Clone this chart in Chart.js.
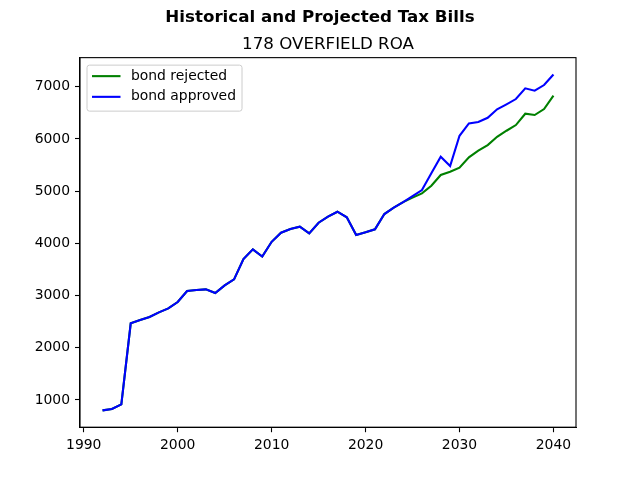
<!DOCTYPE html>
<html>
<head>
<meta charset="utf-8">
<script src="https://cdn.jsdelivr.net/npm/chart.js@4/dist/chart.umd.min.js"></script>
<style>
  html, body { margin: 0; padding: 0; background: #fff; }
  #wrap { width: 640px; height: 480px; }
</style>
</head>
<body>
<div id="wrap"><canvas id="myChart" width="640" height="480"></canvas></div>
<script>
const years = [
  1992, 1993, 1994, 1995, 1996, 1997, 1998, 1999, 2000, 2001,
  2002, 2003, 2004, 2005, 2006, 2007, 2008, 2009, 2010, 2011,
  2012, 2013, 2014, 2015, 2016, 2017, 2018, 2019, 2020, 2021,
  2022, 2023, 2024, 2025, 2026, 2027, 2028, 2029, 2030, 2031,
  2032, 2033, 2034, 2035, 2036, 2037, 2038, 2039, 2040
];
const bondRejected = [
  801, 828, 917, 2469, 2532, 2590, 2679, 2755, 2877, 3087,
  3106, 3119, 3049, 3196, 3311, 3700, 3886, 3748, 4030, 4205,
  4275, 4319, 4192, 4396, 4511, 4606, 4498, 4160, 4211, 4269,
  4562, 4683, 4790, 4875, 4958, 5104, 5309, 5372, 5449, 5648,
  5775, 5883, 6042, 6157, 6266, 6483, 6458, 6573, 6828
];
const bondApproved = [
  801, 828, 917, 2469, 2532, 2590, 2679, 2755, 2877, 3087,
  3106, 3119, 3049, 3196, 3311, 3700, 3886, 3748, 4030, 4205,
  4275, 4319, 4192, 4396, 4511, 4606, 4498, 4160, 4211, 4269,
  4562, 4683, 4790, 4906, 5021, 5341, 5659, 5481, 6061, 6298,
  6324, 6406, 6567, 6663, 6764, 6969, 6923, 7032, 7235
];
const xTicks = [1990, 2000, 2010, 2020, 2030, 2040];
const yTicks = [1000, 2000, 3000, 4000, 5000, 6000, 7000];

const FONT = "'DejaVu Sans', sans-serif";
const SUBTITLE = '178 OVERFIELD ROA';

// top and right spines, like a matplotlib frame
const frame = {
  id: 'frame',
  afterDraw(chart) {
    const {ctx, chartArea: a} = chart;
    ctx.save();
    ctx.strokeStyle = '#000';
    ctx.lineWidth = 1.1;
    ctx.strokeRect(a.left, a.top, a.right - a.left, a.bottom - a.top);
    ctx.restore();
  }
};

// axes title, centred over the plot area rather than the whole figure
const axesTitle = {
  id: 'axesTitle',
  afterDraw(chart) {
    const {ctx, chartArea: a} = chart;
    ctx.save();
    ctx.font = '16.7px ' + FONT;
    ctx.fillStyle = '#000';
    ctx.textAlign = 'center';
    ctx.textBaseline = 'alphabetic';
    ctx.fillText(SUBTITLE, (a.left + a.right) / 2, a.top - 8.3);
    ctx.restore();
  }
};

// legend box in the upper left corner of the plot
const innerLegend = {
  id: 'innerLegend',
  afterDatasetsDraw(chart) {
    const {ctx, chartArea: a} = chart;
    const x = a.left + 7, y = a.top + 7.5, w = 155, h = 46;
    ctx.save();
    ctx.beginPath();
    ctx.roundRect(x, y, w, h, 2.5);
    ctx.fillStyle = 'rgba(255,255,255,0.8)';
    ctx.fill();
    ctx.strokeStyle = '#cccccc';
    ctx.lineWidth = 1;
    ctx.stroke();
    ctx.font = '13.9px ' + FONT;
    ctx.textBaseline = 'middle';
    chart.data.datasets.forEach((ds, i) => {
      const ry = y + 11 + i * 20.7;
      ctx.beginPath();
      ctx.moveTo(x + 5, ry);
      ctx.lineTo(x + 33.5, ry);
      ctx.strokeStyle = ds.borderColor;
      ctx.lineWidth = 2.1;
      ctx.stroke();
      ctx.fillStyle = '#000';
      ctx.fillText(ds.label, x + 44, ry);
    });
    ctx.restore();
  }
};

const data = {
  datasets: [{
    label: 'bond rejected',
    data: years.map((yr, i) => ({x: yr, y: bondRejected[i]})),
    borderColor: '#008000',
    borderWidth: 2.1,
    pointRadius: 0,
    tension: 0,
    order: 1
  }, {
    label: 'bond approved',
    data: years.map((yr, i) => ({x: yr, y: bondApproved[i]})),
    borderColor: '#0000ff',
    borderWidth: 2.1,
    pointRadius: 0,
    tension: 0,
    order: 0
  }]
};

const config = {
  type: 'line',
  data: data,
  plugins: [frame, axesTitle, innerLegend],
  options: {
    responsive: false,
    animation: false,
    devicePixelRatio: 1,
    layout: { padding: 0 },
    plugins: {
      legend: { display: false },
      tooltip: { enabled: false },
      title: {
        display: true,
        text: 'Historical and Projected Tax Bills',
        color: '#000',
        font: { family: FONT, size: 16.7, weight: 'bold', lineHeight: 1.2 },
        padding: { top: 8, bottom: 29.6 }
      }
    },
    scales: {
      x: {
        type: 'linear',
        min: 1989.6,
        max: 2042.4,
        afterBuildTicks: s => { s.ticks = xTicks.map(v => ({value: v})); },
        afterFit: s => { s.height = 52.8; },
        grid: { drawOnChartArea: false, drawTicks: true, tickLength: 5, tickWidth: 1.1, tickColor: '#000' },
        border: { display: true, color: '#000', width: 1.1 },
        ticks: {
          color: '#000',
          padding: 5,
          maxRotation: 0,
          font: { family: FONT, size: 13.9 },
          callback: v => String(v)
        }
      },
      y: {
        type: 'linear',
        position: 'left',
        min: 479,
        max: 7557,
        afterBuildTicks: s => { s.ticks = yTicks.map(v => ({value: v})); },
        afterFit: s => { s.width = 80; },
        grid: { drawOnChartArea: false, drawTicks: true, tickLength: 5, tickWidth: 1.1, tickColor: '#000' },
        border: { display: true, color: '#000', width: 1.1 },
        ticks: {
          color: '#000',
          padding: 5,
          font: { family: FONT, size: 13.9 },
          callback: v => String(v)
        }
      },
      // empty right-hand axis that only reserves the right margin
      yRight: {
        type: 'linear',
        position: 'right',
        display: true,
        min: 0,
        max: 1,
        afterFit: s => { s.width = 64; },
        grid: { display: false },
        border: { display: false },
        ticks: { display: false }
      }
    }
  }
};

const myChart = new Chart(document.getElementById('myChart'), config);
</script>
</body>
</html>
